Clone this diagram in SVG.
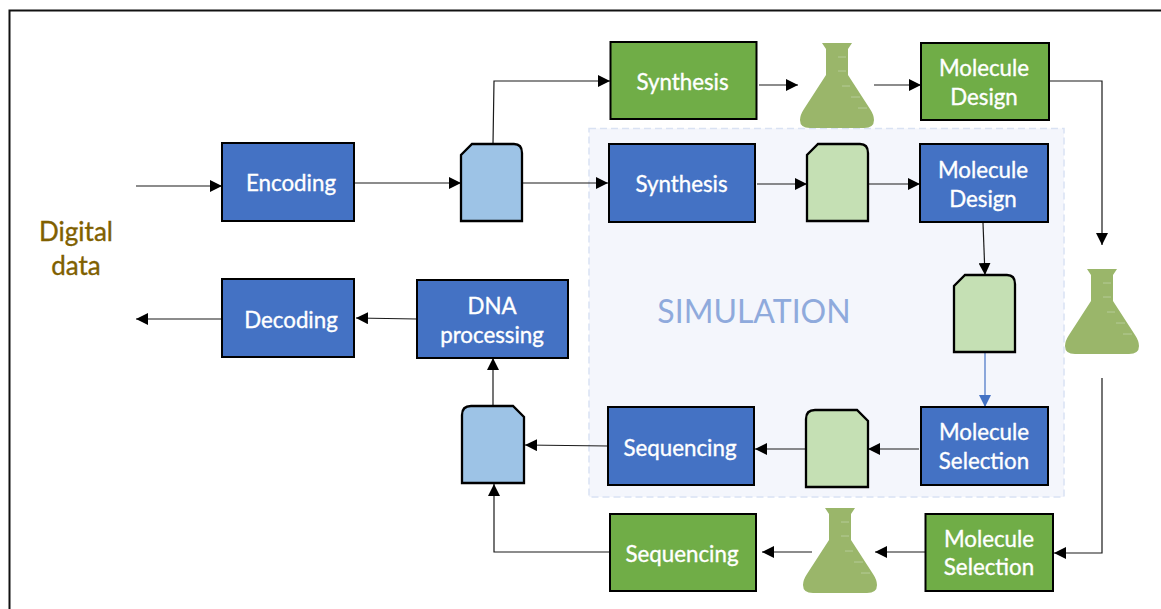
<svg xmlns="http://www.w3.org/2000/svg" xmlns:xlink="http://www.w3.org/1999/xlink" width="1161" height="609" viewBox="0 0 1161 609">
<style>
.box{stroke:#000;stroke-width:2}
.blue{fill:#4472c4}
.green{fill:#70ad47}
.t{font-family:"Lato","Liberation Sans",sans-serif;font-size:22.300px;fill:#fff;stroke:#fff;stroke-width:.35;text-anchor:middle}
.d{font-family:"Lato","Liberation Sans",sans-serif;font-size:26px;fill:#7f6000;stroke:#7f6000;stroke-width:.35;text-anchor:middle}
.sim{font-family:"Lato","Liberation Sans",sans-serif;font-size:32px;fill:#8faadc;text-anchor:middle}
.tube{stroke:#000;stroke-width:2.300}
.c{fill:none;stroke:#1a1a1a;stroke-width:1.200;marker-end:url(#a)}
.cb{fill:none;stroke:#4472c4;stroke-width:1.200;marker-end:url(#ab)}
.tick{stroke:#b5cb97;stroke-width:1}
</style>
<defs>
<marker id="a" markerUnits="userSpaceOnUse" markerWidth="12" markerHeight="12" refX="12" refY="6" orient="auto"><path d="M0 0L12 6L0 12Z" fill="#000"/></marker>
<marker id="ab" markerUnits="userSpaceOnUse" markerWidth="12" markerHeight="12" refX="12" refY="6" orient="auto"><path d="M0 0L12 6L0 12Z" fill="#4472c4"/></marker>
<g id="flask">
<path d="M-15 0H15L11 6V32L33 66Q37 72 37 77Q37 85 27 85H-27Q-37 85-37 77Q-37 72-33 66L-11 32V6Z" fill="#9ab66a"/>
<path class="tick" d="M1 14H9M1 28H9M5 43H13M14 54H23M21 65H30"/>
</g>
<path id="tl" d="M0 77V11L11 0H53Q61 0 61 9V77Z"/>
<path id="tr" d="M0 77V9Q0 0 9 0H51L62 11V77Z"/>
</defs>
<rect width="1161" height="609" fill="#fff"/>
<path id="frame" d="M9.500 609V10.500H1161" fill="none" stroke="#111" stroke-width="2"/>
<rect id="simulation" x="589" y="128.500" width="475" height="368.500" fill="#f4f6fc" stroke="#d9e2f3" stroke-width="1.500" stroke-dasharray="7 4"/>
<text class="sim" x="754" y="322.500">SIMULATION</text>
<g id="digital-data"><text class="d" x="76" y="240.500">Digital</text><text class="d" x="76" y="274.500">data</text></g>
<g id="connectors">
<path class="c" d="M136 186H222"/>
<path class="c" d="M355 183H461"/>
<path class="c" d="M523 183H608"/>
<path class="c" d="M493 144L494 81H610"/>
<path class="c" d="M759 85H798"/>
<path class="c" d="M874 85H921"/>
<path class="c" d="M1049 81H1102V245"/>
<path class="c" d="M757 184H807"/>
<path class="c" d="M869 184H920"/>
<path class="c" d="M983 223L985 275"/>
<path class="cb" d="M985 353V407"/>
<path class="c" d="M1102 378V553H1054"/>
<path class="c" d="M919 449H868"/>
<path class="c" d="M805 449H755"/>
<path class="c" d="M608 446L525 445"/>
<path class="c" d="M925 552H875"/>
<path class="c" d="M812 552H762"/>
<path class="c" d="M610 552H494V484"/>
<path class="c" d="M493 406V358"/>
<path class="c" d="M417 319L356 318"/>
<path class="c" d="M222 319H136"/>
</g>
<g id="encoding"><rect class="box blue" x="222" y="143" width="132" height="78"/><text class="t" x="291" y="191">Encoding</text></g>
<g id="decoding"><rect class="box blue" x="222" y="279" width="132" height="78"/><text class="t" x="291" y="328">Decoding</text></g>
<g id="dna-processing"><rect class="box blue" x="417" y="280" width="151" height="78"/><text class="t" x="492" y="314">DNA</text><text class="t" x="492" y="343">processing</text></g>
<g id="synthesis-green"><rect class="box green" x="610.500" y="42" width="146" height="77"/><text class="t" x="682.500" y="90">Synthesis</text></g>
<g id="design-green"><rect class="box green" x="921" y="43" width="128" height="77"/><text class="t" x="984" y="76">Molecule</text><text class="t" x="984" y="105">Design</text></g>
<g id="synthesis-blue"><rect class="box blue" x="609" y="144" width="146" height="78"/><text class="t" x="681.500" y="192">Synthesis</text></g>
<g id="design-blue"><rect class="box blue" x="920" y="144" width="128" height="78"/><text class="t" x="983" y="178">Molecule</text><text class="t" x="983" y="207">Design</text></g>
<g id="sequencing-blue"><rect class="box blue" x="608" y="407" width="146" height="78"/><text class="t" x="680" y="456">Sequencing</text></g>
<g id="selection-blue"><rect class="box blue" x="921" y="407" width="127" height="78"/><text class="t" x="984" y="440">Molecule</text><text class="t" x="984" y="469">Selection</text></g>
<g id="sequencing-green"><rect class="box green" x="610" y="514" width="146" height="77"/><text class="t" x="682" y="562">Sequencing</text></g>
<g id="selection-green"><rect class="box green" x="925.500" y="514" width="127.500" height="77"/><text class="t" x="989" y="547">Molecule</text><text class="t" x="989" y="575">Selection</text></g>
<g id="tube-1"><use xlink:href="#tl" href="#tl" class="tube" x="461" y="144" fill="#9dc3e6"/></g>
<g id="tube-2"><use xlink:href="#tr" href="#tr" class="tube" x="462" y="406" fill="#9dc3e6"/></g>
<g id="tube-3"><use xlink:href="#tl" href="#tl" class="tube" x="807" y="144" fill="#c5e0b4"/></g>
<g id="tube-4"><use xlink:href="#tl" href="#tl" class="tube" x="954" y="275" fill="#c5e0b4"/></g>
<g id="tube-5"><use xlink:href="#tr" href="#tr" class="tube" x="806" y="410" fill="#c5e0b4"/></g>
<g id="flask-1"><use xlink:href="#flask" href="#flask" x="837" y="43"/></g>
<g id="flask-2"><use xlink:href="#flask" href="#flask" x="1102" y="269"/></g>
<g id="flask-3"><use xlink:href="#flask" href="#flask" x="840" y="508"/></g>
</svg>
